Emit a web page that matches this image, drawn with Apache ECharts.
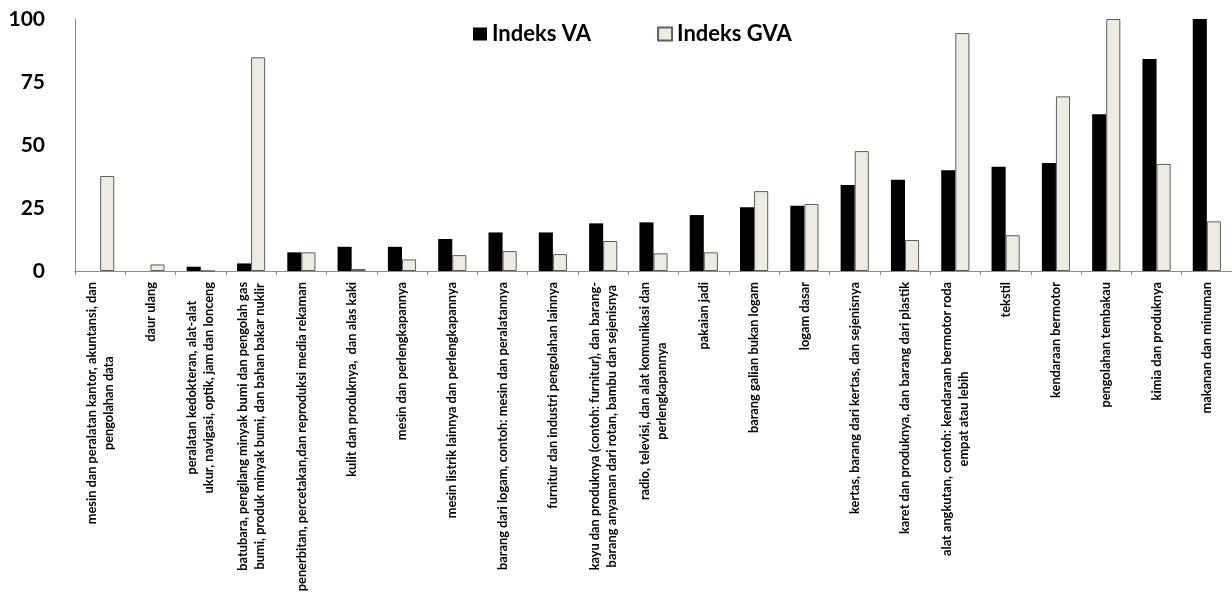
<!DOCTYPE html>
<html>
<head>
<meta charset="utf-8">
<script src="https://cdn.jsdelivr.net/npm/echarts@6/dist/echarts.min.js"></script>
<style>
  html, body { margin: 0; padding: 0; background: #fff; }
  #chart { width: 1232px; height: 601px; }
</style>
</head>
<body>
<div id="chart"></div>
<script>
// kategori industri (urut menurut Indeks VA)
var categories = [
  'mesin dan peralatan kantor, akuntansi, dan\npengolahan data',
  'daur ulang',
  'peralatan kedokteran, alat-alat\nukur, navigasi, optik, jam dan lonceng',
  'batubara, pengilang minyak bumi dan pengolah gas\nbumi, produk minyak bumi, dan bahan bakar nuklir',
  'penerbitan, percetakan,dan reproduksi media rekaman',
  'kulit dan produknya,  dan alas kaki',
  'mesin dan perlengkapannya',
  'mesin listrik lainnya dan perlengkapannya',
  'barang dari logam, contoh: mesin dan peralatannya',
  'furnitur dan industri pengolahan lainnya',
  'kayu dan produknya (contoh: furnitur), dan barang-\nbarang anyaman dari rotan, bambu dan sejenisnya',
  'radio, televisi, dan alat komunikasi dan\nperlengkapannya',
  'pakaian jadi',
  'barang galian bukan logam',
  'logam dasar',
  'kertas, barang dari kertas, dan sejenisnya',
  'karet dan produknya, dan barang dari plastik',
  'alat angkutan, contoh: kendaraan bermotor roda\nempat atau lebih',
  'tekstil',
  'kendaraan bermotor',
  'pengolahan tembakau',
  'kimia dan produknya',
  'makanan dan minuman'
]
var indeksVA = [0, 0, 1.7, 3.0, 7.4, 9.6, 9.6, 12.7, 15.3, 15.3, 18.9, 19.3, 22.2, 25.3, 25.9,
  34.1, 36.2, 40.0, 41.4, 42.9, 62.2, 84.1, 100]
var indeksGVA = [37.7, 2.6, 0, 84.8, 7.4, 0.8, 4.6, 6.3, 7.9, 6.7, 11.9, 7.0, 7.4, 31.7, 26.6,
  47.6, 12.3, 94.4, 14.2, 69.3, 100, 42.5, 19.7]
var yTicks = [0, 25, 50, 75, 100]

var font = 'Lato, "Open Sans", sans-serif'
var myChart = echarts.init(document.getElementById('chart'))
var option = {
  animation: false,
  backgroundColor: '#ffffff',
  textStyle: { fontFamily: font },
  legend: {
    data: ['Indeks VA', 'Indeks GVA'],
    left: 468,
    top: 18,
    itemWidth: 14,
    itemHeight: 13,
    itemGap: 66,
    icon: 'rect',
    textStyle: { fontFamily: font, fontWeight: 'bold', fontSize: 22, color: '#000' }
  },
  grid: {
    left: 75,
    right: 0,
    top: 19,
    bottom: 330
  },
  xAxis: {
    type: 'category',
    data: categories,
    axisLine: { lineStyle: { color: '#8c8c8c', width: 1 } },
    axisTick: { show: true, length: 4, lineStyle: { color: '#8c8c8c' } },
    axisLabel: {
      interval: 0,
      rotate: 90,
      margin: 11,
      fontFamily: font,
      fontWeight: 'bold',
      fontSize: 12.8,
      lineHeight: 17,
      color: '#000',
      formatter: function (val) {
        return val.split('\n').map(function (s) { return '{c|' + s + '}' }).join('\n')
      },
      rich: {
        c: { align: 'center', fontFamily: font, fontWeight: 'bold', fontSize: 12.8, lineHeight: 17, color: '#000' }
      }
    }
  },
  yAxis: {
    type: 'value',
    min: yTicks[0],
    max: yTicks[yTicks.length - 1],
    interval: 25,
    splitLine: { show: false },
    axisLine: { show: true, lineStyle: { color: '#8c8c8c', width: 1 } },
    axisTick: { show: false },
    axisLabel: {
      margin: 30,
      fontFamily: font,
      fontWeight: 'bold',
      fontSize: 21,
      color: '#000'
    }
  },
  series: [
    {
      name: 'Indeks VA',
      type: 'bar',
      data: indeksVA,
      barGap: '0%',
      barCategoryGap: '44%',
      itemStyle: { color: '#000000' }
    },
    {
      name: 'Indeks GVA',
      type: 'bar',
      data: indeksGVA,
      itemStyle: { color: '#eeece1', borderColor: '#5f5f5f', borderWidth: 1 }
    }
  ]
}
myChart.setOption(option)
</script>
</body>
</html>
